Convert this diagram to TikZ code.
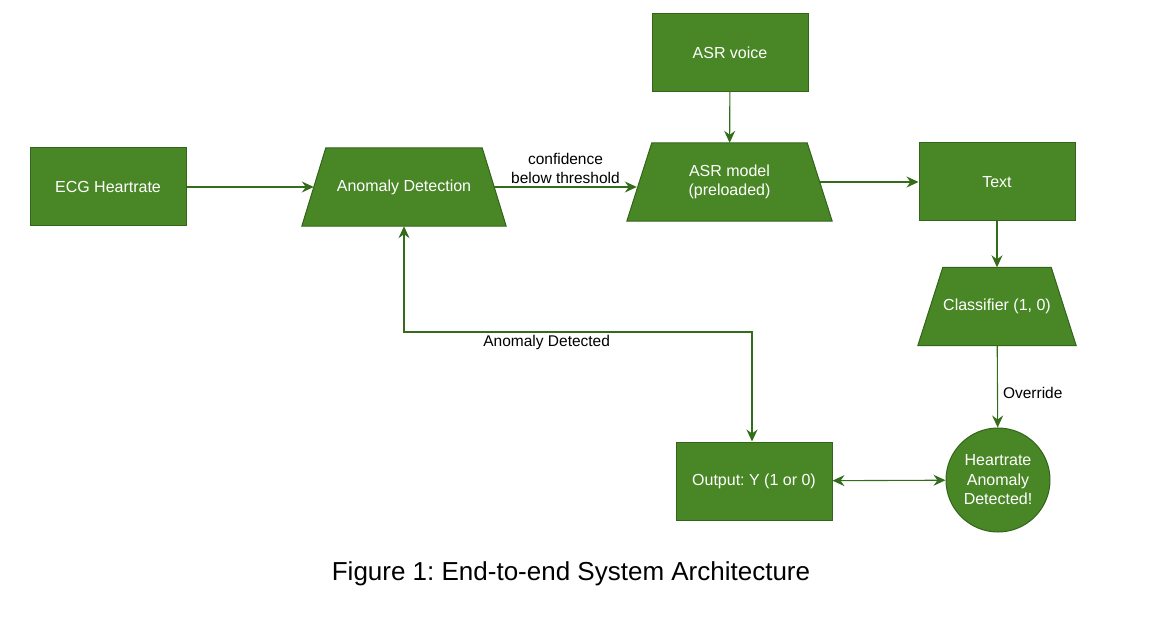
\documentclass[tikz,border=0pt]{standalone}
\usepackage{fontspec}
\setmainfont{Liberation Sans}
\usetikzlibrary{arrows.meta,backgrounds}
\definecolor{gfill}{RGB}{73,135,38}
\definecolor{gline}{RGB}{50,100,25}
\definecolor{garrow}{RGB}{52,108,28}
\frenchspacing
\tikzset{
  nodefont/.style={font=\fontsize{16}{19.5}\selectfont, text=white, align=center},
  shapeline/.style={fill=gfill, draw=gline, line width=1pt},
  boxnode/.style={nodefont, rectangle, shapeline, minimum width=156pt, minimum height=78pt, inner sep=0pt},
  trapnode/.style={nodefont, rectangle, minimum height=78pt, inner sep=0pt},
  circnode/.style={nodefont, circle, shapeline, minimum size=104pt, inner sep=0pt},
  tip/.tip={Stealth[length=12pt,width=11pt,inset=4pt]},
  conn/.style={draw=garrow, line width=1.1pt, -tip},
  lbl/.style={font=\fontsize{15.5}{18.5}\selectfont, text=black, align=center},
}
\newcommand{\trapfill}[2]{%
  \filldraw[shapeline] (#1.south west) -- (#1.south east) -- ([xshift=-#2]#1.north east) -- ([xshift=#2]#1.north west) -- cycle;}
\begin{document}
\begin{tikzpicture}[x=1pt,y=-1pt]
\useasboundingbox (0,0) rectangle (1152,620);
\node[boxnode] (ecg) at (108,187) {ECG Heartrate};
\node[trapnode, minimum width=204pt] (ad) at (404,187) {Anomaly Detection};
\node[boxnode] (asrv) at (730,52.5) {ASR voice};
\node[trapnode, minimum width=205pt] (asrm) at (729.5,182) {ASR model\\(preloaded)};
\node[boxnode] (txt) at (997,182) {Text};
\node[trapnode, minimum width=158pt] (cls) at (997,306.5) {Classifier (1, 0)};
\node[circnode] (hr) at (998,480) {Heartrate\\Anomaly\\Detected!};
\node[boxnode] (out) at (754,481) {Output: Y (1 or 0)};
\begin{scope}[on background layer]
  \trapfill{ad}{24pt}
  \trapfill{asrm}{25pt}
  \trapfill{cls}{25pt}
\end{scope}
\coordinate (fb) at (0,332);
\coordinate (fbx) at (752,0);

\draw[conn] (ecg.east) -- ([xshift=12pt]ad.west);
\draw[conn] ([xshift=-12pt]ad.east) -- node[lbl, above, inner sep=3pt] {confidence\\below threshold} ([xshift=10pt]ad.east -| asrm.west);
\draw[conn] (asrv) -- (asrm);
\draw[conn] ([xshift=-12pt]asrm.east) -- (txt.west);
\draw[conn] (txt) -- (cls);
\draw[conn] (cls) -- node[lbl, right, pos=0.58, inner sep=5pt] {Override} (hr);
\draw[conn, tip-tip] (out) -- (hr);
\draw[conn, tip-tip] (ad.south) -- (ad.south |- fb) -- node[lbl, below, pos=0.41, inner sep=3pt] {Anomaly Detected} (fb -| fbx) -- (fbx |- out.north);

\node[font=\fontsize{26}{30}\selectfont, text=black] (cap) at (571,574) {Figure 1: End-to-end System Architecture};
\end{tikzpicture}
\end{document}
